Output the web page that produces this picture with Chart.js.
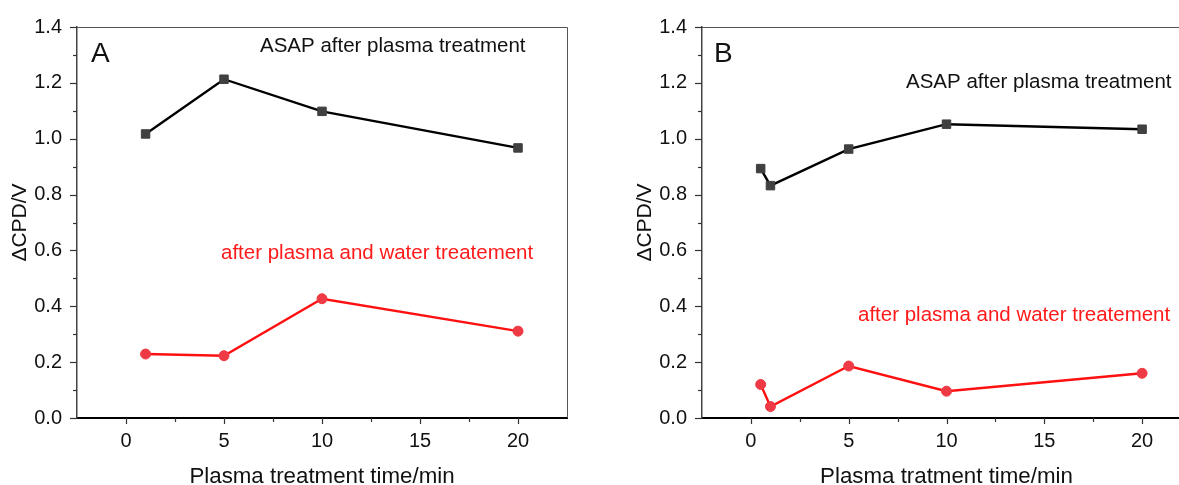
<!DOCTYPE html>
<html>
<head>
<meta charset="utf-8">
<script src="https://cdn.jsdelivr.net/npm/chart.js@4.4.1/dist/chart.umd.min.js"></script>
<style>
  html, body { margin: 0; padding: 0; background: #fff; overflow: hidden; width: 1179px; height: 485px; }
  #wrapA { position: absolute; left: 0; top: 0; width: 587px; height: 485px; }
  #wrapB { position: absolute; left: 625px; top: 0; width: 586px; height: 485px; }
</style>
</head>
<body>
<div id="wrapA"><canvas id="chartA" width="587" height="485"></canvas></div>
<div id="wrapB"><canvas id="chartB" width="586" height="485"></canvas></div>
<script>
// ---- data ----
const timesA = [1, 5, 10, 20];
const asapA  = [1.017, 1.213, 1.098, 0.967];
const waterA = [0.229, 0.223, 0.427, 0.311];

const timesB = [0.5, 1, 5, 10, 20];
const asapB  = [0.893, 0.832, 0.963, 1.052, 1.034];
const waterB = [0.120, 0.041, 0.186, 0.096, 0.160];

const xTickLabels = [0, 5, 10, 15, 20];
const yTickLabels = [0.0, 0.2, 0.4, 0.6, 0.8, 1.0, 1.2, 1.4];
const seriesNames = ['ASAP after plasma treatment', 'after plasma and water treatement'];
const yTitle = '\u0394CPD/V';
const xTitleA = 'Plasma treatment time/min';
const xTitleB = 'Plasma tratment time/min';

const FONT = '"Liberation Sans", Arial, Helvetica, sans-serif';

function pts(xs, ys) { return xs.map((x, i) => ({ x: x, y: ys[i] })); }

// minor/major tick marks + frame + annotations
const tickFramePlugin = {
  id: 'tickFrame',
  afterDraw(chart) {
    const ctx = chart.ctx;
    const a = chart.chartArea;
    const xs = chart.scales.x, ys = chart.scales.y;
    ctx.save();
    ctx.strokeStyle = '#555';
    ctx.lineWidth = 1;
    ctx.beginPath();
    ctx.moveTo(a.left, a.top + 0.5);
    ctx.lineTo(a.right + 0.5, a.top + 0.5);
    ctx.lineTo(a.right + 0.5, a.bottom);
    ctx.stroke();
    ctx.strokeStyle = '#333';
    ctx.lineWidth = 1.2;
    for (let i = 0; i <= 14; i++) {
      const v = i / 10;
      const py = Math.round(ys.getPixelForValue(v)) + 0.5;
      const len = (i % 2 === 0) ? 7 : 4;
      ctx.beginPath();
      ctx.moveTo(a.left - len, py);
      ctx.lineTo(a.left, py);
      ctx.stroke();
    }
    for (let i = 0; i <= 8; i++) {
      const v = i * 2.5;
      const px = Math.round(xs.getPixelForValue(v)) + 0.5;
      const len = (i % 2 === 0) ? 6 : 4;
      ctx.beginPath();
      ctx.moveTo(px, a.bottom);
      ctx.lineTo(px, a.bottom + len);
      ctx.stroke();
    }
    const ann = chart.options.plugins.tickFrame.labels || [];
    ann.forEach(t => {
      ctx.font = t.font;
      ctx.fillStyle = t.color;
      ctx.textAlign = 'left';
      ctx.textBaseline = 'alphabetic';
      ctx.fillText(t.text, t.x - chart.canvas.offsetParent.offsetLeft, t.y);
    });
    ctx.restore();
  }
};

function makeChart(id, times, asap, water, xTitle, letter, annPos) {
  const ctx = document.getElementById(id);
  return new Chart(ctx, {
    type: 'line',
    data: {
      datasets: [
        {
          label: seriesNames[0],
          data: pts(times, asap),
          borderColor: '#000',
          borderWidth: 2.4,
          pointStyle: 'rect',
          pointRadius: 6,
          pointBackgroundColor: '#404040',
          pointBorderColor: '#404040',
          pointBorderWidth: 1,
          tension: 0
        },
        {
          label: seriesNames[1],
          data: pts(times, water),
          borderColor: '#ff1010',
          borderWidth: 2.4,
          pointStyle: 'circle',
          pointRadius: 5,
          pointBackgroundColor: '#ee3a45',
          pointBorderColor: '#ee3a45',
          pointBorderWidth: 1,
          tension: 0
        }
      ]
    },
    options: {
      responsive: false,
      animation: false,
      devicePixelRatio: 1,
      layout: { padding: { top: 24, right: 20, left: 0, bottom: 0 } },
      plugins: {
        legend: { display: false },
        tooltip: { enabled: false },
        tickFrame: {
          labels: [
            { text: letter, x: annPos.letter[0], y: annPos.letter[1], font: '28px ' + FONT, color: '#111' },
            { text: seriesNames[0], x: annPos.asap[0], y: annPos.asap[1], font: '20.5px ' + FONT, color: '#111' },
            { text: seriesNames[1], x: annPos.water[0], y: annPos.water[1], font: '20.5px ' + FONT, color: '#ff1a1a' }
          ]
        }
      },
      scales: {
        x: {
          type: 'linear',
          min: -2.5,
          max: 22.5,
          afterFit(s) { s.height = 67; },
          afterBuildTicks(s) { s.ticks = xTickLabels.map(v => ({ value: v })); },
          ticks: {
            autoSkip: false,
            maxRotation: 0,
            padding: 11,
            color: '#111',
            font: { family: FONT, size: 20 },
            callback: v => String(v)
          },
          grid: { display: false, drawTicks: false },
          border: { display: true, color: '#000', width: 2 },
          title: {
            display: true,
            text: xTitle,
            color: '#111',
            font: { family: FONT, size: 22.3, lineHeight: 0.75 },
            padding: { top: 0, bottom: 0 }
          }
        },
        y: {
          type: 'linear',
          min: 0,
          max: 1.4,
          afterFit(s) { s.width = 77; },
          afterBuildTicks(s) { s.ticks = yTickLabels.map(v => ({ value: v })); },
          ticks: {
            autoSkip: false,
            padding: 15,
            color: '#111',
            font: { family: FONT, size: 20 },
            callback: v => Number(v).toFixed(1)
          },
          grid: { display: false, drawTicks: false },
          border: { display: true, color: '#444', width: 1.5 },
          title: {
            display: true,
            text: yTitle,
            color: '#111',
            font: { family: FONT, size: 21, lineHeight: 1 },
            padding: { top: 9.5, bottom: 0 }
          }
        }
      }
    },
    plugins: [tickFramePlugin]
  });
}

makeChart('chartA', timesA, asapA, waterA, xTitleA, 'A',
  { letter: [91, 62], asap: [260, 52], water: [221, 259] });
makeChart('chartB', timesB, asapB, waterB, xTitleB, 'B',
  { letter: [714, 62], asap: [906, 87.5], water: [858, 321] });
</script>
</body>
</html>
